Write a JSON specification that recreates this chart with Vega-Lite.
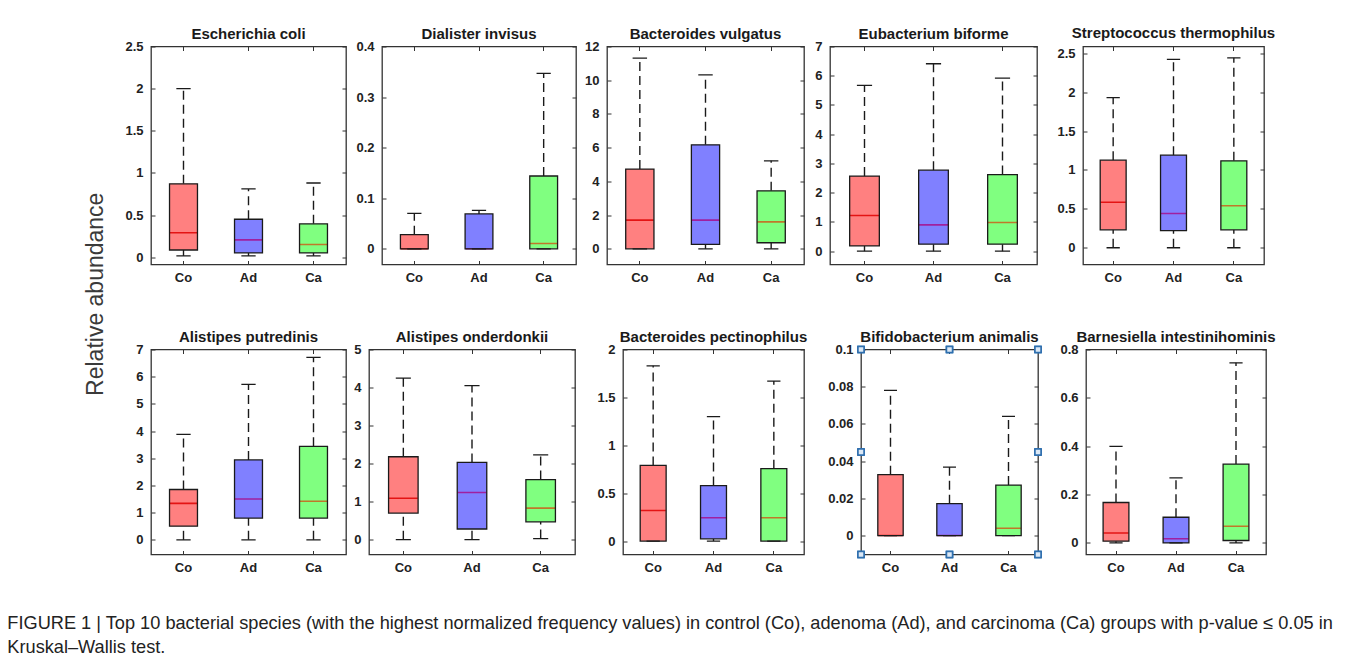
{
  "$schema": "https://vega.github.io/schema/vega-lite/v6.json",
  "background": "white",
  "padding": {"left": 7, "top": 24.5, "right": 5, "bottom": 5},
  "data": {"values": [
    {"species": "Escherichia coli", "group": "Co", "lower": 0.015, "q1": 0.085, "median": 0.29, "q3": 0.87, "upper": 2.0},
    {"species": "Escherichia coli", "group": "Ad", "lower": 0.015, "q1": 0.05, "median": 0.205, "q3": 0.45, "upper": 0.81},
    {"species": "Escherichia coli", "group": "Ca", "lower": 0.015, "q1": 0.05, "median": 0.15, "q3": 0.396, "upper": 0.88},
    {"species": "Dialister invisus", "group": "Co", "lower": 0, "q1": 0, "median": 0, "q3": 0.028, "upper": 0.07},
    {"species": "Dialister invisus", "group": "Ad", "lower": 0, "q1": 0, "median": 0, "q3": 0.069, "upper": 0.076},
    {"species": "Dialister invisus", "group": "Ca", "lower": 0, "q1": 0, "median": 0.0105, "q3": 0.144, "upper": 0.347},
    {"species": "Bacteroides vulgatus", "group": "Co", "lower": 0, "q1": 0, "median": 1.7, "q3": 4.73, "upper": 11.31},
    {"species": "Bacteroides vulgatus", "group": "Ad", "lower": 0, "q1": 0.26, "median": 1.7, "q3": 6.17, "upper": 10.32},
    {"species": "Bacteroides vulgatus", "group": "Ca", "lower": 0, "q1": 0.36, "median": 1.6, "q3": 3.44, "upper": 5.22},
    {"species": "Eubacterium biforme", "group": "Co", "lower": 0, "q1": 0.18, "median": 1.22, "q3": 2.57, "upper": 5.67},
    {"species": "Eubacterium biforme", "group": "Ad", "lower": 0, "q1": 0.24, "median": 0.9, "q3": 2.77, "upper": 6.41},
    {"species": "Eubacterium biforme", "group": "Ca", "lower": 0, "q1": 0.24, "median": 0.98, "q3": 2.62, "upper": 5.92},
    {"species": "Streptococcus thermophilus", "group": "Co", "lower": 0, "q1": 0.23, "median": 0.585, "q3": 1.125, "upper": 1.93},
    {"species": "Streptococcus thermophilus", "group": "Ad", "lower": 0, "q1": 0.22, "median": 0.44, "q3": 1.19, "upper": 2.42},
    {"species": "Streptococcus thermophilus", "group": "Ca", "lower": 0, "q1": 0.23, "median": 0.54, "q3": 1.117, "upper": 2.44},
    {"species": "Alistipes putredinis", "group": "Co", "lower": 0, "q1": 0.5, "median": 1.34, "q3": 1.85, "upper": 3.88},
    {"species": "Alistipes putredinis", "group": "Ad", "lower": 0, "q1": 0.8, "median": 1.5, "q3": 2.94, "upper": 5.72},
    {"species": "Alistipes putredinis", "group": "Ca", "lower": 0, "q1": 0.8, "median": 1.42, "q3": 3.44, "upper": 6.71},
    {"species": "Alistipes onderdonkii", "group": "Co", "lower": 0, "q1": 0.7, "median": 1.09, "q3": 2.18, "upper": 4.25},
    {"species": "Alistipes onderdonkii", "group": "Ad", "lower": 0, "q1": 0.28, "median": 1.24, "q3": 2.03, "upper": 4.05},
    {"species": "Alistipes onderdonkii", "group": "Ca", "lower": 0.03, "q1": 0.47, "median": 0.83, "q3": 1.58, "upper": 2.23},
    {"species": "Bacteroides pectinophilus", "group": "Co", "lower": 0, "q1": 0, "median": 0.32, "q3": 0.79, "upper": 1.83},
    {"species": "Bacteroides pectinophilus", "group": "Ad", "lower": 0, "q1": 0.024, "median": 0.244, "q3": 0.58, "upper": 1.3},
    {"species": "Bacteroides pectinophilus", "group": "Ca", "lower": 0, "q1": 0, "median": 0.244, "q3": 0.756, "upper": 1.67},
    {"species": "Bifidobacterium animalis", "group": "Co", "lower": 0, "q1": 0, "median": 0, "q3": 0.0327, "upper": 0.078},
    {"species": "Bifidobacterium animalis", "group": "Ad", "lower": 0, "q1": 0, "median": 0, "q3": 0.0171, "upper": 0.0368},
    {"species": "Bifidobacterium animalis", "group": "Ca", "lower": 0, "q1": 0, "median": 0.0039, "q3": 0.0271, "upper": 0.0641},
    {"species": "Barnesiella intestinihominis", "group": "Co", "lower": 0, "q1": 0.007, "median": 0.041, "q3": 0.167, "upper": 0.399},
    {"species": "Barnesiella intestinihominis", "group": "Ad", "lower": 0, "q1": 0, "median": 0.017, "q3": 0.106, "upper": 0.269},
    {"species": "Barnesiella intestinihominis", "group": "Ca", "lower": 0, "q1": 0.01, "median": 0.069, "q3": 0.326, "upper": 0.745}
  ]},
  "title": {
    "text": ["FIGURE 1 | Top 10 bacterial species (with the highest normalized frequency values) in control (Co), adenoma (Ad), and carcinoma (Ca) groups with p-value ≤ 0.05 in", "Kruskal–Wallis test."],
    "orient": "bottom", "anchor": "start", "frame": "bounds", "font": "Liberation Sans", "fontSize": 18.2, "fontWeight": "normal", "color": "#222222", "offset": 40, "lineHeight": 24, "dx": -78, "baseline": "top"
  },
  "vconcat": [
    {
      "title": {"text": "Relative abundance", "orient": "left", "anchor": "middle", "frame": "bounds", "font": "Liberation Sans", "fontSize": 23, "fontWeight": "normal", "color": "#3a3a3a", "offset": 12, "dx": 6},
      "spacing": 43,
      "vconcat": [
        {"spacing": 5, "hconcat": [
          {"title": {"text": "Escherichia coli", "offset": -1.5}, "width": 195, "height": 218,
           "transform": [{"filter": {"field": "species", "equal": "Escherichia coli"}}],
           "encoding": {"x": {"field": "group", "type": "nominal", "title": null, "scale": {"type": "band", "domain": ["Co", "Ad", "Ca"], "paddingInner": 0, "paddingOuter": 0}, "axis": null}},
           "layer": [
             {"mark": {"type": "rule", "strokeDash": [9, 5], "strokeWidth": 1.4, "color": "#1a1a1a"},
              "encoding": {"x": {"field": "group", "type": "nominal", "title": null, "scale": {"type": "band", "domain": ["Co", "Ad", "Ca"], "paddingInner": 0, "paddingOuter": 0}, "axis": {"orient": "top", "labels": false, "minExtent": 0, "maxExtent": 0}},
                "y": {"field": "q3", "type": "quantitative", "title": null, "scale": {"domain": [-0.087, 2.5], "nice": false, "zero": false}, "axis": {"orient": "right", "labels": false, "values": [0, 0.5, 1, 1.5, 2, 2.5], "minExtent": 0, "maxExtent": 0}},
                "y2": {"field": "upper"}}},
             {"mark": {"type": "rule", "strokeDash": [9, 5], "strokeWidth": 1.4, "color": "#1a1a1a"},
              "encoding": {"y": {"field": "lower", "type": "quantitative", "axis": null}, "y2": {"field": "q1"}}},
             {"mark": {"type": "bar", "width": {"band": 0.43}, "strokeWidth": 0},
              "encoding": {"x": {"field": "group", "type": "nominal", "title": null, "scale": {"type": "band", "domain": ["Co", "Ad", "Ca"], "paddingInner": 0, "paddingOuter": 0}, "axis": {"orient": "bottom"}},
                "y": {"field": "q1", "type": "quantitative", "title": null, "scale": {"domain": [-0.087, 2.5], "nice": false, "zero": false}, "axis": {"orient": "left", "values": [0, 0.5, 1, 1.5, 2, 2.5], "format": "~g", "minExtent": 30, "maxExtent": 30}},
                "y2": {"field": "q3"},
                "fill": {"field": "group", "type": "nominal", "scale": {"domain": ["Co", "Ad", "Ca"], "range": ["#ff8080", "#8080ff", "#80ff80"]}, "legend": null}}},
             {"mark": {"type": "bar", "filled": false, "width": {"band": 0.42}, "strokeWidth": 1.6},
              "encoding": {"y": {"field": "median", "type": "quantitative", "axis": null}, "y2": {"field": "median"},
                "stroke": {"field": "group", "type": "nominal", "scale": {"domain": ["Co", "Ad", "Ca"], "range": ["#e41414", "#a0209f", "#c0782a"]}, "legend": null}}},
             {"mark": {"type": "bar", "filled": false, "width": {"band": 0.43}, "color": "#1a1a1a", "strokeWidth": 1.3},
              "encoding": {"y": {"field": "q1", "type": "quantitative", "axis": null}, "y2": {"field": "q3"}}},
             {"mark": {"type": "bar", "filled": false, "width": {"band": 0.22}, "color": "#1a1a1a", "strokeWidth": 1.3},
              "encoding": {"y": {"field": "upper", "type": "quantitative", "axis": null}, "y2": {"field": "upper"}}},
             {"mark": {"type": "bar", "filled": false, "width": {"band": 0.22}, "color": "#1a1a1a", "strokeWidth": 1.3},
              "encoding": {"y": {"field": "lower", "type": "quantitative", "axis": null}, "y2": {"field": "lower"}}}
           ],
           "resolve": {"axis": {"x": "independent", "y": "independent"}}},
          {"title": {"text": "Dialister invisus", "offset": -1.5}, "width": 194, "height": 218,
           "transform": [{"filter": {"field": "species", "equal": "Dialister invisus"}}],
           "encoding": {"x": {"field": "group", "type": "nominal", "title": null, "scale": {"type": "band", "domain": ["Co", "Ad", "Ca"], "paddingInner": 0, "paddingOuter": 0}, "axis": null}},
           "layer": [
             {"mark": {"type": "rule", "strokeDash": [9, 5], "strokeWidth": 1.4, "color": "#1a1a1a"},
              "encoding": {"x": {"field": "group", "type": "nominal", "title": null, "scale": {"type": "band", "domain": ["Co", "Ad", "Ca"], "paddingInner": 0, "paddingOuter": 0}, "axis": {"orient": "top", "labels": false, "minExtent": 0, "maxExtent": 0}},
                "y": {"field": "q3", "type": "quantitative", "title": null, "scale": {"domain": [-0.031, 0.4], "nice": false, "zero": false}, "axis": {"orient": "right", "labels": false, "values": [0, 0.1, 0.2, 0.3, 0.4], "minExtent": 0, "maxExtent": 0}},
                "y2": {"field": "upper"}}},
             {"mark": {"type": "rule", "strokeDash": [9, 5], "strokeWidth": 1.4, "color": "#1a1a1a"},
              "encoding": {"y": {"field": "lower", "type": "quantitative", "axis": null}, "y2": {"field": "q1"}}},
             {"mark": {"type": "bar", "width": {"band": 0.43}, "strokeWidth": 0},
              "encoding": {"x": {"field": "group", "type": "nominal", "title": null, "scale": {"type": "band", "domain": ["Co", "Ad", "Ca"], "paddingInner": 0, "paddingOuter": 0}, "axis": {"orient": "bottom"}},
                "y": {"field": "q1", "type": "quantitative", "title": null, "scale": {"domain": [-0.031, 0.4], "nice": false, "zero": false}, "axis": {"orient": "left", "values": [0, 0.1, 0.2, 0.3, 0.4], "format": "~g", "minExtent": 28, "maxExtent": 28}},
                "y2": {"field": "q3"},
                "fill": {"field": "group", "type": "nominal", "scale": {"domain": ["Co", "Ad", "Ca"], "range": ["#ff8080", "#8080ff", "#80ff80"]}, "legend": null}}},
             {"mark": {"type": "bar", "filled": false, "width": {"band": 0.42}, "strokeWidth": 1.6},
              "encoding": {"y": {"field": "median", "type": "quantitative", "axis": null}, "y2": {"field": "median"},
                "stroke": {"field": "group", "type": "nominal", "scale": {"domain": ["Co", "Ad", "Ca"], "range": ["#e41414", "#a0209f", "#c0782a"]}, "legend": null}}},
             {"mark": {"type": "bar", "filled": false, "width": {"band": 0.43}, "color": "#1a1a1a", "strokeWidth": 1.3},
              "encoding": {"y": {"field": "q1", "type": "quantitative", "axis": null}, "y2": {"field": "q3"}}},
             {"mark": {"type": "bar", "filled": false, "width": {"band": 0.22}, "color": "#1a1a1a", "strokeWidth": 1.3},
              "encoding": {"y": {"field": "upper", "type": "quantitative", "axis": null}, "y2": {"field": "upper"}}},
             {"mark": {"type": "bar", "filled": false, "width": {"band": 0.22}, "color": "#1a1a1a", "strokeWidth": 1.3},
              "encoding": {"y": {"field": "lower", "type": "quantitative", "axis": null}, "y2": {"field": "lower"}}}
           ],
           "resolve": {"axis": {"x": "independent", "y": "independent"}}},
          {"title": {"text": "Bacteroides vulgatus", "offset": -1.5}, "width": 197, "height": 218,
           "transform": [{"filter": {"field": "species", "equal": "Bacteroides vulgatus"}}],
           "encoding": {"x": {"field": "group", "type": "nominal", "title": null, "scale": {"type": "band", "domain": ["Co", "Ad", "Ca"], "paddingInner": 0, "paddingOuter": 0}, "axis": null}},
           "layer": [
             {"mark": {"type": "rule", "strokeDash": [9, 5], "strokeWidth": 1.4, "color": "#1a1a1a"},
              "encoding": {"x": {"field": "group", "type": "nominal", "title": null, "scale": {"type": "band", "domain": ["Co", "Ad", "Ca"], "paddingInner": 0, "paddingOuter": 0}, "axis": {"orient": "top", "labels": false, "minExtent": 0, "maxExtent": 0}},
                "y": {"field": "q3", "type": "quantitative", "title": null, "scale": {"domain": [-0.93, 12], "nice": false, "zero": false}, "axis": {"orient": "right", "labels": false, "values": [0, 2, 4, 6, 8, 10, 12], "minExtent": 0, "maxExtent": 0}},
                "y2": {"field": "upper"}}},
             {"mark": {"type": "rule", "strokeDash": [9, 5], "strokeWidth": 1.4, "color": "#1a1a1a"},
              "encoding": {"y": {"field": "lower", "type": "quantitative", "axis": null}, "y2": {"field": "q1"}}},
             {"mark": {"type": "bar", "width": {"band": 0.43}, "strokeWidth": 0},
              "encoding": {"x": {"field": "group", "type": "nominal", "title": null, "scale": {"type": "band", "domain": ["Co", "Ad", "Ca"], "paddingInner": 0, "paddingOuter": 0}, "axis": {"orient": "bottom"}},
                "y": {"field": "q1", "type": "quantitative", "title": null, "scale": {"domain": [-0.93, 12], "nice": false, "zero": false}, "axis": {"orient": "left", "values": [0, 2, 4, 6, 8, 10, 12], "format": "~g", "minExtent": 22, "maxExtent": 22}},
                "y2": {"field": "q3"},
                "fill": {"field": "group", "type": "nominal", "scale": {"domain": ["Co", "Ad", "Ca"], "range": ["#ff8080", "#8080ff", "#80ff80"]}, "legend": null}}},
             {"mark": {"type": "bar", "filled": false, "width": {"band": 0.42}, "strokeWidth": 1.6},
              "encoding": {"y": {"field": "median", "type": "quantitative", "axis": null}, "y2": {"field": "median"},
                "stroke": {"field": "group", "type": "nominal", "scale": {"domain": ["Co", "Ad", "Ca"], "range": ["#e41414", "#a0209f", "#c0782a"]}, "legend": null}}},
             {"mark": {"type": "bar", "filled": false, "width": {"band": 0.43}, "color": "#1a1a1a", "strokeWidth": 1.3},
              "encoding": {"y": {"field": "q1", "type": "quantitative", "axis": null}, "y2": {"field": "q3"}}},
             {"mark": {"type": "bar", "filled": false, "width": {"band": 0.22}, "color": "#1a1a1a", "strokeWidth": 1.3},
              "encoding": {"y": {"field": "upper", "type": "quantitative", "axis": null}, "y2": {"field": "upper"}}},
             {"mark": {"type": "bar", "filled": false, "width": {"band": 0.22}, "color": "#1a1a1a", "strokeWidth": 1.3},
              "encoding": {"y": {"field": "lower", "type": "quantitative", "axis": null}, "y2": {"field": "lower"}}}
           ],
           "resolve": {"axis": {"x": "independent", "y": "independent"}}},
          {"title": {"text": "Eubacterium biforme", "offset": -1.5}, "width": 207, "height": 218,
           "transform": [{"filter": {"field": "species", "equal": "Eubacterium biforme"}}],
           "encoding": {"x": {"field": "group", "type": "nominal", "title": null, "scale": {"type": "band", "domain": ["Co", "Ad", "Ca"], "paddingInner": 0, "paddingOuter": 0}, "axis": null}},
           "layer": [
             {"mark": {"type": "rule", "strokeDash": [9, 5], "strokeWidth": 1.4, "color": "#1a1a1a"},
              "encoding": {"x": {"field": "group", "type": "nominal", "title": null, "scale": {"type": "band", "domain": ["Co", "Ad", "Ca"], "paddingInner": 0, "paddingOuter": 0}, "axis": {"orient": "top", "labels": false, "minExtent": 0, "maxExtent": 0}},
                "y": {"field": "q3", "type": "quantitative", "title": null, "scale": {"domain": [-0.455, 7], "nice": false, "zero": false}, "axis": {"orient": "right", "labels": false, "values": [0, 1, 2, 3, 4, 5, 6, 7], "minExtent": 0, "maxExtent": 0}},
                "y2": {"field": "upper"}}},
             {"mark": {"type": "rule", "strokeDash": [9, 5], "strokeWidth": 1.4, "color": "#1a1a1a"},
              "encoding": {"y": {"field": "lower", "type": "quantitative", "axis": null}, "y2": {"field": "q1"}}},
             {"mark": {"type": "bar", "width": {"band": 0.43}, "strokeWidth": 0},
              "encoding": {"x": {"field": "group", "type": "nominal", "title": null, "scale": {"type": "band", "domain": ["Co", "Ad", "Ca"], "paddingInner": 0, "paddingOuter": 0}, "axis": {"orient": "bottom"}},
                "y": {"field": "q1", "type": "quantitative", "title": null, "scale": {"domain": [-0.455, 7], "nice": false, "zero": false}, "axis": {"orient": "left", "values": [0, 1, 2, 3, 4, 5, 6, 7], "format": "~g", "minExtent": 17.5, "maxExtent": 17.5}},
                "y2": {"field": "q3"},
                "fill": {"field": "group", "type": "nominal", "scale": {"domain": ["Co", "Ad", "Ca"], "range": ["#ff8080", "#8080ff", "#80ff80"]}, "legend": null}}},
             {"mark": {"type": "bar", "filled": false, "width": {"band": 0.42}, "strokeWidth": 1.6},
              "encoding": {"y": {"field": "median", "type": "quantitative", "axis": null}, "y2": {"field": "median"},
                "stroke": {"field": "group", "type": "nominal", "scale": {"domain": ["Co", "Ad", "Ca"], "range": ["#e41414", "#a0209f", "#c0782a"]}, "legend": null}}},
             {"mark": {"type": "bar", "filled": false, "width": {"band": 0.43}, "color": "#1a1a1a", "strokeWidth": 1.3},
              "encoding": {"y": {"field": "q1", "type": "quantitative", "axis": null}, "y2": {"field": "q3"}}},
             {"mark": {"type": "bar", "filled": false, "width": {"band": 0.22}, "color": "#1a1a1a", "strokeWidth": 1.3},
              "encoding": {"y": {"field": "upper", "type": "quantitative", "axis": null}, "y2": {"field": "upper"}}},
             {"mark": {"type": "bar", "filled": false, "width": {"band": 0.22}, "color": "#1a1a1a", "strokeWidth": 1.3},
              "encoding": {"y": {"field": "lower", "type": "quantitative", "axis": null}, "y2": {"field": "lower"}}}
           ],
           "resolve": {"axis": {"x": "independent", "y": "independent"}}},
          {"title": {"text": "Streptococcus thermophilus", "offset": 5}, "width": 181, "height": 218,
           "transform": [{"filter": {"field": "species", "equal": "Streptococcus thermophilus"}}],
           "encoding": {"x": {"field": "group", "type": "nominal", "title": null, "scale": {"type": "band", "domain": ["Co", "Ad", "Ca"], "paddingInner": 0, "paddingOuter": 0}, "axis": null}},
           "layer": [
             {"mark": {"type": "rule", "strokeDash": [9, 5], "strokeWidth": 1.4, "color": "#1a1a1a"},
              "encoding": {"x": {"field": "group", "type": "nominal", "title": null, "scale": {"type": "band", "domain": ["Co", "Ad", "Ca"], "paddingInner": 0, "paddingOuter": 0}, "axis": {"orient": "top", "labels": false, "minExtent": 0, "maxExtent": 0}},
                "y": {"field": "q3", "type": "quantitative", "title": null, "scale": {"domain": [-0.215, 2.586], "nice": false, "zero": false}, "axis": {"orient": "right", "labels": false, "values": [0, 0.5, 1, 1.5, 2, 2.5], "minExtent": 0, "maxExtent": 0}},
                "y2": {"field": "upper"}}},
             {"mark": {"type": "rule", "strokeDash": [9, 5], "strokeWidth": 1.4, "color": "#1a1a1a"},
              "encoding": {"y": {"field": "lower", "type": "quantitative", "axis": null}, "y2": {"field": "q1"}}},
             {"mark": {"type": "bar", "width": {"band": 0.43}, "strokeWidth": 0},
              "encoding": {"x": {"field": "group", "type": "nominal", "title": null, "scale": {"type": "band", "domain": ["Co", "Ad", "Ca"], "paddingInner": 0, "paddingOuter": 0}, "axis": {"orient": "bottom"}},
                "y": {"field": "q1", "type": "quantitative", "title": null, "scale": {"domain": [-0.215, 2.586], "nice": false, "zero": false}, "axis": {"orient": "left", "values": [0, 0.5, 1, 1.5, 2, 2.5], "format": "~g", "minExtent": 37.5, "maxExtent": 37.5}},
                "y2": {"field": "q3"},
                "fill": {"field": "group", "type": "nominal", "scale": {"domain": ["Co", "Ad", "Ca"], "range": ["#ff8080", "#8080ff", "#80ff80"]}, "legend": null}}},
             {"mark": {"type": "bar", "filled": false, "width": {"band": 0.42}, "strokeWidth": 1.6},
              "encoding": {"y": {"field": "median", "type": "quantitative", "axis": null}, "y2": {"field": "median"},
                "stroke": {"field": "group", "type": "nominal", "scale": {"domain": ["Co", "Ad", "Ca"], "range": ["#e41414", "#a0209f", "#c0782a"]}, "legend": null}}},
             {"mark": {"type": "bar", "filled": false, "width": {"band": 0.43}, "color": "#1a1a1a", "strokeWidth": 1.3},
              "encoding": {"y": {"field": "q1", "type": "quantitative", "axis": null}, "y2": {"field": "q3"}}},
             {"mark": {"type": "bar", "filled": false, "width": {"band": 0.22}, "color": "#1a1a1a", "strokeWidth": 1.3},
              "encoding": {"y": {"field": "upper", "type": "quantitative", "axis": null}, "y2": {"field": "upper"}}},
             {"mark": {"type": "bar", "filled": false, "width": {"band": 0.22}, "color": "#1a1a1a", "strokeWidth": 1.3},
              "encoding": {"y": {"field": "lower", "type": "quantitative", "axis": null}, "y2": {"field": "lower"}}}
           ],
           "resolve": {"axis": {"x": "independent", "y": "independent"}}}
        ]},
        {"spacing": 5, "hconcat": [
          {"title": {"text": "Alistipes putredinis", "offset": -1.5}, "width": 195, "height": 205,
           "transform": [{"filter": {"field": "species", "equal": "Alistipes putredinis"}}],
           "encoding": {"x": {"field": "group", "type": "nominal", "title": null, "scale": {"type": "band", "domain": ["Co", "Ad", "Ca"], "paddingInner": 0, "paddingOuter": 0}, "axis": null}},
           "layer": [
             {"mark": {"type": "rule", "strokeDash": [9, 5], "strokeWidth": 1.4, "color": "#1a1a1a"},
              "encoding": {"x": {"field": "group", "type": "nominal", "title": null, "scale": {"type": "band", "domain": ["Co", "Ad", "Ca"], "paddingInner": 0, "paddingOuter": 0}, "axis": {"orient": "top", "labels": false, "minExtent": 0, "maxExtent": 0}},
                "y": {"field": "q3", "type": "quantitative", "title": null, "scale": {"domain": [-0.54, 7], "nice": false, "zero": false}, "axis": {"orient": "right", "labels": false, "values": [0, 1, 2, 3, 4, 5, 6, 7], "minExtent": 0, "maxExtent": 0}},
                "y2": {"field": "upper"}}},
             {"mark": {"type": "rule", "strokeDash": [9, 5], "strokeWidth": 1.4, "color": "#1a1a1a"},
              "encoding": {"y": {"field": "lower", "type": "quantitative", "axis": null}, "y2": {"field": "q1"}}},
             {"mark": {"type": "bar", "width": {"band": 0.43}, "strokeWidth": 0},
              "encoding": {"x": {"field": "group", "type": "nominal", "title": null, "scale": {"type": "band", "domain": ["Co", "Ad", "Ca"], "paddingInner": 0, "paddingOuter": 0}, "axis": {"orient": "bottom"}},
                "y": {"field": "q1", "type": "quantitative", "title": null, "scale": {"domain": [-0.54, 7], "nice": false, "zero": false}, "axis": {"orient": "left", "values": [0, 1, 2, 3, 4, 5, 6, 7], "format": "~g", "minExtent": 30, "maxExtent": 30}},
                "y2": {"field": "q3"},
                "fill": {"field": "group", "type": "nominal", "scale": {"domain": ["Co", "Ad", "Ca"], "range": ["#ff8080", "#8080ff", "#80ff80"]}, "legend": null}}},
             {"mark": {"type": "bar", "filled": false, "width": {"band": 0.42}, "strokeWidth": 1.6},
              "encoding": {"y": {"field": "median", "type": "quantitative", "axis": null}, "y2": {"field": "median"},
                "stroke": {"field": "group", "type": "nominal", "scale": {"domain": ["Co", "Ad", "Ca"], "range": ["#e41414", "#a0209f", "#c0782a"]}, "legend": null}}},
             {"mark": {"type": "bar", "filled": false, "width": {"band": 0.43}, "color": "#1a1a1a", "strokeWidth": 1.3},
              "encoding": {"y": {"field": "q1", "type": "quantitative", "axis": null}, "y2": {"field": "q3"}}},
             {"mark": {"type": "bar", "filled": false, "width": {"band": 0.22}, "color": "#1a1a1a", "strokeWidth": 1.3},
              "encoding": {"y": {"field": "upper", "type": "quantitative", "axis": null}, "y2": {"field": "upper"}}},
             {"mark": {"type": "bar", "filled": false, "width": {"band": 0.22}, "color": "#1a1a1a", "strokeWidth": 1.3},
              "encoding": {"y": {"field": "lower", "type": "quantitative", "axis": null}, "y2": {"field": "lower"}}}
           ],
           "resolve": {"axis": {"x": "independent", "y": "independent"}}},
          {"title": {"text": "Alistipes onderdonkii", "offset": -1.5}, "width": 206, "height": 205,
           "transform": [{"filter": {"field": "species", "equal": "Alistipes onderdonkii"}}],
           "encoding": {"x": {"field": "group", "type": "nominal", "title": null, "scale": {"type": "band", "domain": ["Co", "Ad", "Ca"], "paddingInner": 0, "paddingOuter": 0}, "axis": null}},
           "layer": [
             {"mark": {"type": "rule", "strokeDash": [9, 5], "strokeWidth": 1.4, "color": "#1a1a1a"},
              "encoding": {"x": {"field": "group", "type": "nominal", "title": null, "scale": {"type": "band", "domain": ["Co", "Ad", "Ca"], "paddingInner": 0, "paddingOuter": 0}, "axis": {"orient": "top", "labels": false, "minExtent": 0, "maxExtent": 0}},
                "y": {"field": "q3", "type": "quantitative", "title": null, "scale": {"domain": [-0.39, 5], "nice": false, "zero": false}, "axis": {"orient": "right", "labels": false, "values": [0, 1, 2, 3, 4, 5], "minExtent": 0, "maxExtent": 0}},
                "y2": {"field": "upper"}}},
             {"mark": {"type": "rule", "strokeDash": [9, 5], "strokeWidth": 1.4, "color": "#1a1a1a"},
              "encoding": {"y": {"field": "lower", "type": "quantitative", "axis": null}, "y2": {"field": "q1"}}},
             {"mark": {"type": "bar", "width": {"band": 0.43}, "strokeWidth": 0},
              "encoding": {"x": {"field": "group", "type": "nominal", "title": null, "scale": {"type": "band", "domain": ["Co", "Ad", "Ca"], "paddingInner": 0, "paddingOuter": 0}, "axis": {"orient": "bottom"}},
                "y": {"field": "q1", "type": "quantitative", "title": null, "scale": {"domain": [-0.39, 5], "nice": false, "zero": false}, "axis": {"orient": "left", "values": [0, 1, 2, 3, 4, 5], "format": "~g", "minExtent": 15, "maxExtent": 15}},
                "y2": {"field": "q3"},
                "fill": {"field": "group", "type": "nominal", "scale": {"domain": ["Co", "Ad", "Ca"], "range": ["#ff8080", "#8080ff", "#80ff80"]}, "legend": null}}},
             {"mark": {"type": "bar", "filled": false, "width": {"band": 0.42}, "strokeWidth": 1.6},
              "encoding": {"y": {"field": "median", "type": "quantitative", "axis": null}, "y2": {"field": "median"},
                "stroke": {"field": "group", "type": "nominal", "scale": {"domain": ["Co", "Ad", "Ca"], "range": ["#e41414", "#a0209f", "#c0782a"]}, "legend": null}}},
             {"mark": {"type": "bar", "filled": false, "width": {"band": 0.43}, "color": "#1a1a1a", "strokeWidth": 1.3},
              "encoding": {"y": {"field": "q1", "type": "quantitative", "axis": null}, "y2": {"field": "q3"}}},
             {"mark": {"type": "bar", "filled": false, "width": {"band": 0.22}, "color": "#1a1a1a", "strokeWidth": 1.3},
              "encoding": {"y": {"field": "upper", "type": "quantitative", "axis": null}, "y2": {"field": "upper"}}},
             {"mark": {"type": "bar", "filled": false, "width": {"band": 0.22}, "color": "#1a1a1a", "strokeWidth": 1.3},
              "encoding": {"y": {"field": "lower", "type": "quantitative", "axis": null}, "y2": {"field": "lower"}}}
           ],
           "resolve": {"axis": {"x": "independent", "y": "independent"}}},
          {"title": {"text": "Bacteroides pectinophilus", "offset": -1.5}, "width": 181, "height": 205,
           "transform": [{"filter": {"field": "species", "equal": "Bacteroides pectinophilus"}}],
           "encoding": {"x": {"field": "group", "type": "nominal", "title": null, "scale": {"type": "band", "domain": ["Co", "Ad", "Ca"], "paddingInner": 0, "paddingOuter": 0}, "axis": null}},
           "layer": [
             {"mark": {"type": "rule", "strokeDash": [9, 5], "strokeWidth": 1.4, "color": "#1a1a1a"},
              "encoding": {"x": {"field": "group", "type": "nominal", "title": null, "scale": {"type": "band", "domain": ["Co", "Ad", "Ca"], "paddingInner": 0, "paddingOuter": 0}, "axis": {"orient": "top", "labels": false, "minExtent": 0, "maxExtent": 0}},
                "y": {"field": "q3", "type": "quantitative", "title": null, "scale": {"domain": [-0.14, 2], "nice": false, "zero": false}, "axis": {"orient": "right", "labels": false, "values": [0, 0.5, 1, 1.5, 2], "minExtent": 0, "maxExtent": 0}},
                "y2": {"field": "upper"}}},
             {"mark": {"type": "rule", "strokeDash": [9, 5], "strokeWidth": 1.4, "color": "#1a1a1a"},
              "encoding": {"y": {"field": "lower", "type": "quantitative", "axis": null}, "y2": {"field": "q1"}}},
             {"mark": {"type": "bar", "width": {"band": 0.43}, "strokeWidth": 0},
              "encoding": {"x": {"field": "group", "type": "nominal", "title": null, "scale": {"type": "band", "domain": ["Co", "Ad", "Ca"], "paddingInner": 0, "paddingOuter": 0}, "axis": {"orient": "bottom"}},
                "y": {"field": "q1", "type": "quantitative", "title": null, "scale": {"domain": [-0.14, 2], "nice": false, "zero": false}, "axis": {"orient": "left", "values": [0, 0.5, 1, 1.5, 2], "format": "~g", "minExtent": 40, "maxExtent": 40}},
                "y2": {"field": "q3"},
                "fill": {"field": "group", "type": "nominal", "scale": {"domain": ["Co", "Ad", "Ca"], "range": ["#ff8080", "#8080ff", "#80ff80"]}, "legend": null}}},
             {"mark": {"type": "bar", "filled": false, "width": {"band": 0.42}, "strokeWidth": 1.6},
              "encoding": {"y": {"field": "median", "type": "quantitative", "axis": null}, "y2": {"field": "median"},
                "stroke": {"field": "group", "type": "nominal", "scale": {"domain": ["Co", "Ad", "Ca"], "range": ["#e41414", "#a0209f", "#c0782a"]}, "legend": null}}},
             {"mark": {"type": "bar", "filled": false, "width": {"band": 0.43}, "color": "#1a1a1a", "strokeWidth": 1.3},
              "encoding": {"y": {"field": "q1", "type": "quantitative", "axis": null}, "y2": {"field": "q3"}}},
             {"mark": {"type": "bar", "filled": false, "width": {"band": 0.22}, "color": "#1a1a1a", "strokeWidth": 1.3},
              "encoding": {"y": {"field": "upper", "type": "quantitative", "axis": null}, "y2": {"field": "upper"}}},
             {"mark": {"type": "bar", "filled": false, "width": {"band": 0.22}, "color": "#1a1a1a", "strokeWidth": 1.3},
              "encoding": {"y": {"field": "lower", "type": "quantitative", "axis": null}, "y2": {"field": "lower"}}}
           ],
           "resolve": {"axis": {"x": "independent", "y": "independent"}}},
          {"title": {"text": "Bifidobacterium animalis", "offset": -1.5}, "width": 177, "height": 205,
           "transform": [{"filter": {"field": "species", "equal": "Bifidobacterium animalis"}}],
           "encoding": {"x": {"field": "group", "type": "nominal", "title": null, "scale": {"type": "band", "domain": ["Co", "Ad", "Ca"], "paddingInner": 0, "paddingOuter": 0}, "axis": null}},
           "layer": [
             {"mark": {"type": "rule", "strokeDash": [9, 5], "strokeWidth": 1.4, "color": "#1a1a1a"},
              "encoding": {"x": {"field": "group", "type": "nominal", "title": null, "scale": {"type": "band", "domain": ["Co", "Ad", "Ca"], "paddingInner": 0, "paddingOuter": 0}, "axis": {"orient": "top", "labels": false, "minExtent": 0, "maxExtent": 0}},
                "y": {"field": "q3", "type": "quantitative", "title": null, "scale": {"domain": [-0.0102, 0.1], "nice": false, "zero": false}, "axis": {"orient": "right", "labels": false, "values": [0, 0.02, 0.04, 0.06, 0.08, 0.1], "minExtent": 0, "maxExtent": 0}},
                "y2": {"field": "upper"}}},
             {"mark": {"type": "rule", "strokeDash": [9, 5], "strokeWidth": 1.4, "color": "#1a1a1a"},
              "encoding": {"y": {"field": "lower", "type": "quantitative", "axis": null}, "y2": {"field": "q1"}}},
             {"mark": {"type": "bar", "width": {"band": 0.43}, "strokeWidth": 0},
              "encoding": {"x": {"field": "group", "type": "nominal", "title": null, "scale": {"type": "band", "domain": ["Co", "Ad", "Ca"], "paddingInner": 0, "paddingOuter": 0}, "axis": {"orient": "bottom"}},
                "y": {"field": "q1", "type": "quantitative", "title": null, "scale": {"domain": [-0.0102, 0.1], "nice": false, "zero": false}, "axis": {"orient": "left", "values": [0, 0.02, 0.04, 0.06, 0.08, 0.1], "format": "~g", "minExtent": 47, "maxExtent": 47}},
                "y2": {"field": "q3"},
                "fill": {"field": "group", "type": "nominal", "scale": {"domain": ["Co", "Ad", "Ca"], "range": ["#ff8080", "#8080ff", "#80ff80"]}, "legend": null}}},
             {"mark": {"type": "bar", "filled": false, "width": {"band": 0.42}, "strokeWidth": 1.6},
              "encoding": {"y": {"field": "median", "type": "quantitative", "axis": null}, "y2": {"field": "median"},
                "stroke": {"field": "group", "type": "nominal", "scale": {"domain": ["Co", "Ad", "Ca"], "range": ["#e41414", "#a0209f", "#c0782a"]}, "legend": null}}},
             {"mark": {"type": "bar", "filled": false, "width": {"band": 0.43}, "color": "#1a1a1a", "strokeWidth": 1.3},
              "encoding": {"y": {"field": "q1", "type": "quantitative", "axis": null}, "y2": {"field": "q3"}}},
             {"mark": {"type": "bar", "filled": false, "width": {"band": 0.22}, "color": "#1a1a1a", "strokeWidth": 1.3},
              "encoding": {"y": {"field": "upper", "type": "quantitative", "axis": null}, "y2": {"field": "upper"}}},
             {"mark": {"type": "bar", "filled": false, "width": {"band": 0.22}, "color": "#1a1a1a", "strokeWidth": 1.3},
              "encoding": {"y": {"field": "lower", "type": "quantitative", "axis": null}, "y2": {"field": "lower"}}},
             {"mark": {"type": "square", "size": 36, "fill": "#dce8f5", "fillOpacity": 1, "stroke": "#2f6fae", "strokeWidth": 1.5},
              "encoding": {"x": {"datum": "Co", "bandPosition": 0, "axis": null}, "y": {"datum": 0.1, "axis": null}}},
             {"mark": {"type": "square", "size": 36, "fill": "#dce8f5", "fillOpacity": 1, "stroke": "#2f6fae", "strokeWidth": 1.5},
              "encoding": {"x": {"datum": "Ad", "bandPosition": 0.5, "axis": null}, "y": {"datum": 0.1, "axis": null}}},
             {"mark": {"type": "square", "size": 36, "fill": "#dce8f5", "fillOpacity": 1, "stroke": "#2f6fae", "strokeWidth": 1.5},
              "encoding": {"x": {"datum": "Ca", "bandPosition": 1, "axis": null}, "y": {"datum": 0.1, "axis": null}}},
             {"mark": {"type": "square", "size": 36, "fill": "#dce8f5", "fillOpacity": 1, "stroke": "#2f6fae", "strokeWidth": 1.5},
              "encoding": {"x": {"datum": "Co", "bandPosition": 0, "axis": null}, "y": {"datum": 0.0449, "axis": null}}},
             {"mark": {"type": "square", "size": 36, "fill": "#dce8f5", "fillOpacity": 1, "stroke": "#2f6fae", "strokeWidth": 1.5},
              "encoding": {"x": {"datum": "Ca", "bandPosition": 1, "axis": null}, "y": {"datum": 0.0449, "axis": null}}},
             {"mark": {"type": "square", "size": 36, "fill": "#dce8f5", "fillOpacity": 1, "stroke": "#2f6fae", "strokeWidth": 1.5},
              "encoding": {"x": {"datum": "Co", "bandPosition": 0, "axis": null}, "y": {"datum": -0.0102, "axis": null}}},
             {"mark": {"type": "square", "size": 36, "fill": "#dce8f5", "fillOpacity": 1, "stroke": "#2f6fae", "strokeWidth": 1.5},
              "encoding": {"x": {"datum": "Ad", "bandPosition": 0.5, "axis": null}, "y": {"datum": -0.0102, "axis": null}}},
             {"mark": {"type": "square", "size": 36, "fill": "#dce8f5", "fillOpacity": 1, "stroke": "#2f6fae", "strokeWidth": 1.5},
              "encoding": {"x": {"datum": "Ca", "bandPosition": 1, "axis": null}, "y": {"datum": -0.0102, "axis": null}}}
           ],
           "resolve": {"axis": {"x": "independent", "y": "independent"}}},
          {"title": {"text": "Barnesiella intestinihominis", "offset": -1.5}, "width": 180, "height": 205,
           "transform": [{"filter": {"field": "species", "equal": "Barnesiella intestinihominis"}}],
           "encoding": {"x": {"field": "group", "type": "nominal", "title": null, "scale": {"type": "band", "domain": ["Co", "Ad", "Ca"], "paddingInner": 0, "paddingOuter": 0}, "axis": null}},
           "layer": [
             {"mark": {"type": "rule", "strokeDash": [9, 5], "strokeWidth": 1.4, "color": "#1a1a1a"},
              "encoding": {"x": {"field": "group", "type": "nominal", "title": null, "scale": {"type": "band", "domain": ["Co", "Ad", "Ca"], "paddingInner": 0, "paddingOuter": 0}, "axis": {"orient": "top", "labels": false, "minExtent": 0, "maxExtent": 0}},
                "y": {"field": "q3", "type": "quantitative", "title": null, "scale": {"domain": [-0.048, 0.8], "nice": false, "zero": false}, "axis": {"orient": "right", "labels": false, "values": [0, 0.2, 0.4, 0.6, 0.8], "minExtent": 0, "maxExtent": 0}},
                "y2": {"field": "upper"}}},
             {"mark": {"type": "rule", "strokeDash": [9, 5], "strokeWidth": 1.4, "color": "#1a1a1a"},
              "encoding": {"y": {"field": "lower", "type": "quantitative", "axis": null}, "y2": {"field": "q1"}}},
             {"mark": {"type": "bar", "width": {"band": 0.43}, "strokeWidth": 0},
              "encoding": {"x": {"field": "group", "type": "nominal", "title": null, "scale": {"type": "band", "domain": ["Co", "Ad", "Ca"], "paddingInner": 0, "paddingOuter": 0}, "axis": {"orient": "bottom"}},
                "y": {"field": "q1", "type": "quantitative", "title": null, "scale": {"domain": [-0.048, 0.8], "nice": false, "zero": false}, "axis": {"orient": "left", "values": [0, 0.2, 0.4, 0.6, 0.8], "format": "~g", "minExtent": 35, "maxExtent": 35}},
                "y2": {"field": "q3"},
                "fill": {"field": "group", "type": "nominal", "scale": {"domain": ["Co", "Ad", "Ca"], "range": ["#ff8080", "#8080ff", "#80ff80"]}, "legend": null}}},
             {"mark": {"type": "bar", "filled": false, "width": {"band": 0.42}, "strokeWidth": 1.6},
              "encoding": {"y": {"field": "median", "type": "quantitative", "axis": null}, "y2": {"field": "median"},
                "stroke": {"field": "group", "type": "nominal", "scale": {"domain": ["Co", "Ad", "Ca"], "range": ["#e41414", "#a0209f", "#c0782a"]}, "legend": null}}},
             {"mark": {"type": "bar", "filled": false, "width": {"band": 0.43}, "color": "#1a1a1a", "strokeWidth": 1.3},
              "encoding": {"y": {"field": "q1", "type": "quantitative", "axis": null}, "y2": {"field": "q3"}}},
             {"mark": {"type": "bar", "filled": false, "width": {"band": 0.22}, "color": "#1a1a1a", "strokeWidth": 1.3},
              "encoding": {"y": {"field": "upper", "type": "quantitative", "axis": null}, "y2": {"field": "upper"}}},
             {"mark": {"type": "bar", "filled": false, "width": {"band": 0.22}, "color": "#1a1a1a", "strokeWidth": 1.3},
              "encoding": {"y": {"field": "lower", "type": "quantitative", "axis": null}, "y2": {"field": "lower"}}}
           ],
           "resolve": {"axis": {"x": "independent", "y": "independent"}}}
        ]}
      ]
    }
  ],
  "config": {
    "font": "Liberation Sans",
    "view": {"stroke": "#333333", "strokeWidth": 1.3},
    "axis": {"domain": false, "grid": false, "ticks": true, "tickSize": -4, "tickColor": "#333333", "tickWidth": 1, "labelFont": "Liberation Sans", "labelFontSize": 13, "labelFontWeight": "bold", "labelColor": "#222222"},
    "axisX": {"labelPadding": 11, "labelAngle": 0},
    "axisY": {"labelPadding": 12},
    "title": {"font": "Liberation Sans", "fontSize": 15, "fontWeight": "bold", "color": "#1a1a1a", "anchor": "middle", "frame": "group", "offset": 8, "baseline": "alphabetic"}
  }
}
